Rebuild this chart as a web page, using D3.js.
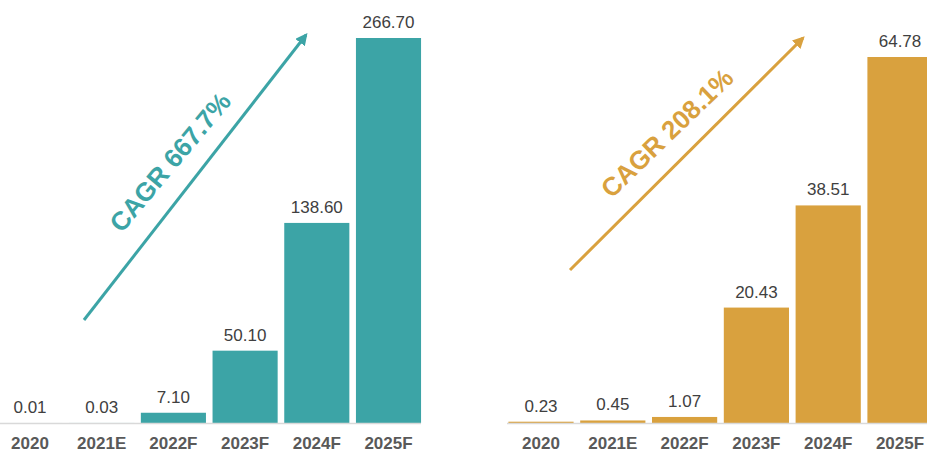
<!DOCTYPE html>
<html><head><meta charset="utf-8">
<script src="https://cdn.jsdelivr.net/npm/d3@7"></script>
<style>body{margin:0;background:#fff;}svg{display:block;}</style>
</head><body>
<svg id="c" width="927" height="454"></svg>
<script>
const categories = ["2020","2021E","2022F","2023F","2024F","2025F"];
const leftValues = [0.01, 0.03, 7.10, 50.10, 138.60, 266.70];
const rightValues = [0.23, 0.45, 1.07, 20.43, 38.51, 64.78];
const leftCagr = "CAGR 667.7%";
const rightCagr = "CAGR 208.1%";

const svg = d3.select("#c");
const defs = svg.append("defs");
const baseY = 423;

function panel(opts){
  const x = d3.scaleBand().domain(categories).range(opts.xRange).paddingInner(0.092).paddingOuter(0.046);
  const y = d3.scaleLinear().domain([0, d3.max(opts.values)]).range([baseY, opts.topY]);
  const g = svg.append("g");
  g.selectAll("rect.bar").data(opts.values).join("rect")
    .attr("x",(d,i)=>x(categories[i])).attr("width",x.bandwidth())
    .attr("y",d=>y(d)).attr("height",d=>baseY-y(d))
    .attr("fill",opts.color);
  g.append("line").attr("x1",opts.axisX[0]).attr("x2",opts.axisX[1])
    .attr("y1",baseY+0.5).attr("y2",baseY+0.5).attr("stroke","#d9d9d9").attr("stroke-width",1.5);
  g.selectAll("text.val").data(opts.values).join("text")
    .attr("x",(d,i)=>x(categories[i])+x.bandwidth()/2)
    .attr("y",d=>y(d)-10)
    .attr("text-anchor","middle")
    .attr("font-family","Liberation Sans, Arial, sans-serif")
    .attr("font-size",17).attr("fill","#404040")
    .text(d=>d.toFixed(2));
  const ax = d3.axisBottom(x).tickSize(0).tickPadding(0);
  const axg = g.append("g").attr("transform",`translate(0,${baseY})`).call(ax);
  axg.select(".domain").remove();
  axg.selectAll("text").attr("dy",null).attr("y",26)
    .attr("font-family","Liberation Sans, Arial, sans-serif")
    .attr("font-size",17).attr("font-weight","bold").attr("fill","#595959");
  const mid = "ah"+opts.id;
  defs.append("marker").attr("id",mid).attr("viewBox","0 0 10 10")
    .attr("refX",8).attr("refY",5).attr("markerWidth",4).attr("markerHeight",4)
    .attr("orient","auto").attr("markerUnits","strokeWidth")
    .append("path").attr("d","M0,0L10,5L0,10z").attr("fill",opts.color);
  const a = opts.arrow;
  g.append("line").attr("x1",a[0]).attr("y1",a[1]).attr("x2",a[2]).attr("y2",a[3])
    .attr("stroke",opts.color).attr("stroke-width",3).attr("marker-end",`url(#${mid})`);
  g.append("text").attr("transform",`translate(${opts.text[0]},${opts.text[1]}) rotate(${opts.text[2]})`)
    .attr("text-anchor","middle").attr("dy","0.35em")
    .attr("font-family","Liberation Sans, Arial, sans-serif")
    .attr("font-size",26).attr("font-weight","bold").attr("fill",opts.color)
    .text(opts.cagr);
}

panel({id:"l", values:leftValues, xRange:[-5.85,424.35], topY:38, color:"#3ca4a6",
  axisX:[0,421], arrow:[84,320,306,35], text:[170,162,-50], cagr:leftCagr});
panel({id:"r", values:rightValues, xRange:[505.1,935.9], topY:57, color:"#d9a13e",
  axisX:[507,927], arrow:[570,270,803,38], text:[667,133,-44], cagr:rightCagr});
</script>
</body></html>
